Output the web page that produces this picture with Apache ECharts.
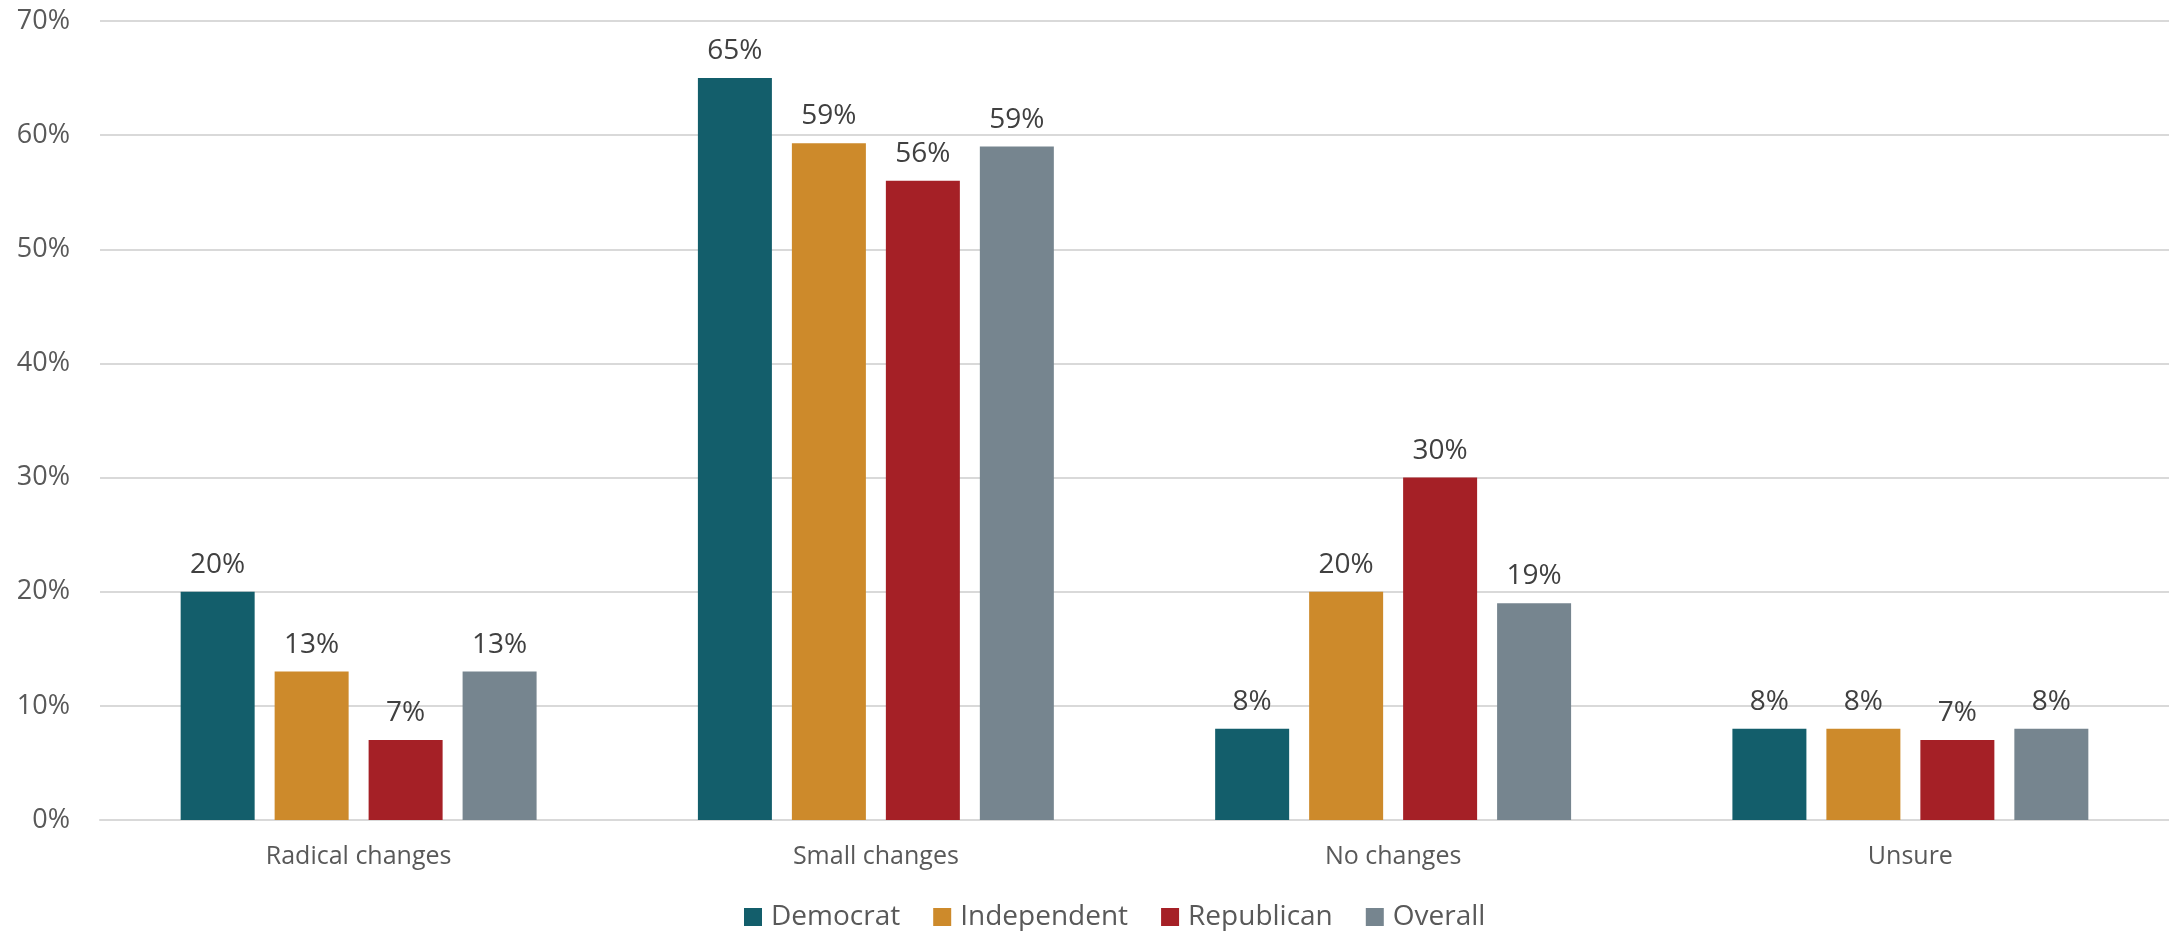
<!DOCTYPE html>
<html>
<head>
<meta charset="utf-8">
<script src="https://cdn.jsdelivr.net/npm/echarts@6/dist/echarts.min.js"></script>
<style>html,body{margin:0;padding:0;background:#fff;}#c{width:2169px;height:931px;}</style>
</head>
<body>
<div id="c"></div>
<script>
const categories = ['Radical changes', 'Small changes', 'No changes', 'Unsure'];
const democrat = [20, 65, 8, 8];
const independent = [13, 59.3, 20, 8];
const republican = [7, 56, 30, 7];
const overall = [13, 59, 19, 8];
const yTicks = [0, 10, 20, 30, 40, 50, 60, 70];

const FONT = '"Open Sans", sans-serif';
const chart = echarts.init(document.getElementById('c'));
function mk(name, data, color) {
  return {
    name, type: 'bar', data, barWidth: 74, barGap: '27%',
    itemStyle: { color },
    label: { show: true, position: 'top', distance: 13, color: '#404040',
      fontFamily: FONT, fontSize: 28, formatter: p => Math.round(p.value) + '%' }
  };
}
chart.setOption({
  animation: false,
  grid: { left: 100, right: -7, top: 21, bottom: 111, containLabel: false },
  legend: {
    bottom: 0, top: 898, left: 739, itemWidth: 18, itemHeight: 18, itemGap: 33, icon: 'rect',
    textStyle: { fontFamily: FONT, fontSize: 28, color: '#595959', padding: [0, 0, 0, 4] },
    data: ['Democrat', 'Independent', 'Republican', 'Overall']
  },
  xAxis: {
    type: 'category', data: categories,
    axisLine: { lineStyle: { color: '#d9d9d9', width: 2 } },
    axisTick: { show: false },
    axisLabel: { margin: 24, fontFamily: FONT, fontSize: 25, color: '#595959' }
  },
  yAxis: {
    type: 'value', min: yTicks[0], max: yTicks[yTicks.length - 1], interval: 10,
    axisLine: { show: false }, axisTick: { show: false },
    splitLine: { lineStyle: { color: '#d9d9d9', width: 2 } },
    axisLabel: { margin: 30, fontFamily: FONT, fontSize: 27, color: '#595959', formatter: v => v + '%' }
  },
  series: [
    mk('Democrat', democrat, '#135e6b'),
    mk('Independent', independent, '#cd8a2b'),
    mk('Republican', republican, '#a52026'),
    mk('Overall', overall, '#76858f')
  ]
});
</script>
</body>
</html>
